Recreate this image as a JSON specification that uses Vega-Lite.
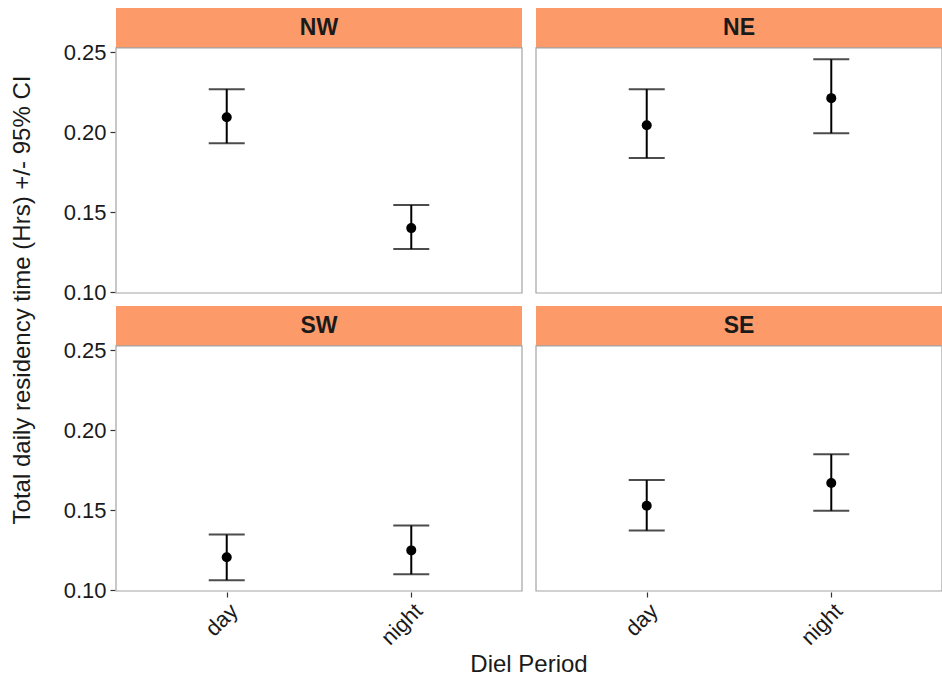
{
  "$schema": "https://vega.github.io/schema/vega-lite/v6.json",
  "background": "white",
  "padding": {"left": 10, "top": 8, "right": 0, "bottom": 0},
  "autosize": {"type": "pad"},
  "data": {
    "values": [
      {"region": "NW", "ns": "N", "ew": "W", "period": "day", "mean": 0.2094, "lower": 0.1931, "upper": 0.2269},
      {"region": "NW", "ns": "N", "ew": "W", "period": "night", "mean": 0.1400, "lower": 0.1269, "upper": 0.1544},
      {"region": "NE", "ns": "N", "ew": "E", "period": "day", "mean": 0.2044, "lower": 0.1838, "upper": 0.2269},
      {"region": "NE", "ns": "N", "ew": "E", "period": "night", "mean": 0.2213, "lower": 0.1994, "upper": 0.2456},
      {"region": "SW", "ns": "S", "ew": "W", "period": "day", "mean": 0.1205, "lower": 0.1062, "upper": 0.1347},
      {"region": "SW", "ns": "S", "ew": "W", "period": "night", "mean": 0.1248, "lower": 0.1099, "upper": 0.1403},
      {"region": "SE", "ns": "S", "ew": "E", "period": "day", "mean": 0.1527, "lower": 0.1372, "upper": 0.1688},
      {"region": "SE", "ns": "S", "ew": "E", "period": "night", "mean": 0.1670, "lower": 0.1496, "upper": 0.1849}
    ]
  },
  "facet": {
    "row": {
      "field": "ns", "type": "nominal", "sort": ["N", "S"],
      "title": "Total daily residency time (Hrs) +/- 95% CI",
      "header": {"labels": false, "titleOrient": "left", "titlePadding": 18}
    },
    "column": {
      "field": "ew", "type": "nominal", "sort": ["W", "E"],
      "title": "Diel Period",
      "header": {"labels": false, "titleOrient": "bottom", "titlePadding": -6}
    }
  },
  "spacing": 12,
  "spec": {
    "width": 406,
    "height": 285,
    "encoding": {
      "x": {
        "field": "period",
        "type": "nominal",
        "sort": ["day", "night"],
        "scale": {"type": "point", "padding": 0.6},
        "title": null,
        "axis": {"labelAngle": -45, "labelPadding": 3}
      }
    },
    "layer": [
      {
        "transform": [{"filter": "datum.period === 'day'"}],
        "mark": {"type": "rect", "fill": "#fc9a6a", "stroke": null},
        "encoding": {
          "x": null,
          "y": {"datum": 0.2527, "type": "quantitative"},
          "y2": {"datum": 0.2777}
        }
      },
      {
        "transform": [{"filter": "datum.period === 'day'"}],
        "mark": {"type": "rect", "fill": null, "stroke": "#a3a3a3", "strokeWidth": 1.2},
        "encoding": {
          "x": null,
          "y": {"datum": 0.0994, "type": "quantitative"},
          "y2": {"datum": 0.2527}
        }
      },
      {
        "mark": {"type": "rule", "color": "black", "strokeWidth": 2},
        "encoding": {
          "y": {
            "field": "lower",
            "type": "quantitative",
            "scale": {"domain": [0.0994, 0.2777], "nice": false, "zero": false},
            "title": null,
            "axis": {"values": [0.10, 0.15, 0.20, 0.25], "format": ".2f"}
          },
          "y2": {"field": "upper"}
        }
      },
      {
        "mark": {"type": "tick", "color": "black", "thickness": 2, "size": 36, "orient": "horizontal"},
        "encoding": {"y": {"field": "lower", "type": "quantitative"}}
      },
      {
        "mark": {"type": "tick", "color": "black", "thickness": 2, "size": 36, "orient": "horizontal"},
        "encoding": {"y": {"field": "upper", "type": "quantitative"}}
      },
      {
        "mark": {"type": "circle", "color": "black", "opacity": 1, "size": 100},
        "encoding": {"y": {"field": "mean", "type": "quantitative"}}
      },
      {
        "transform": [{"filter": "datum.period === 'day'"}],
        "mark": {"type": "text", "font": "Liberation Sans", "fontSize": 23, "fontWeight": "bold", "color": "#1a1a1a", "baseline": "middle", "align": "center"},
        "encoding": {
          "x": null,
          "y": {"datum": 0.2652, "type": "quantitative"},
          "text": {"field": "region"}
        }
      }
    ]
  },
  "config": {
    "view": {"stroke": null},
    "font": "Liberation Sans",
    "header": {
      "titleFont": "Liberation Sans",
      "titleFontSize": 24,
      "titleFontWeight": "normal",
      "titleColor": "#1a1a1a"
    },
    "axis": {
      "domain": false,
      "grid": false,
      "ticks": true,
      "tickColor": "#333333",
      "tickSize": 5,
      "tickWidth": 1.2,
      "labelFont": "Liberation Sans",
      "labelFontSize": 22,
      "labelColor": "#1a1a1a",
      "labelPadding": 4
    }
  }
}
